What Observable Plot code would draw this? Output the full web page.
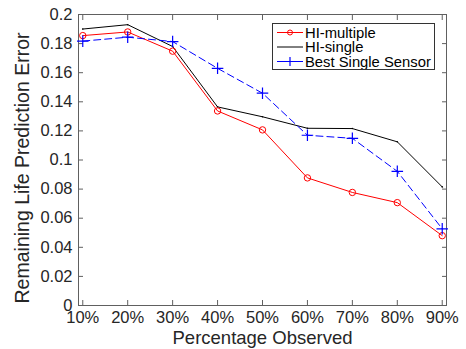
<!DOCTYPE html>
<html><head><meta charset="utf-8">
<script src="https://cdn.jsdelivr.net/npm/d3@7"></script>
<script src="https://cdn.jsdelivr.net/npm/@observablehq/plot@0.6"></script>
<style>
body{margin:0;background:#fff;}
#wrap{position:relative;width:466px;height:349px;font-family:"Liberation Sans",Arial,Helvetica,sans-serif;}
#legend{position:absolute;left:272px;top:23px;width:163px;height:47px;border:1px solid #333;background:#fff;box-sizing:border-box;}
</style>
</head><body><div id="wrap"></div>
<script>
const percentages = [10, 20, 30, 40, 50, 60, 70, 80, 90];
const hiMultiple = [0.1855, 0.188, 0.1748, 0.1337, 0.1207, 0.0877, 0.0777, 0.0707, 0.048];
const hiSingle = [0.190, 0.193, 0.178, 0.1365, 0.1297, 0.1218, 0.1216, 0.1125, 0.0815];
const bestSingle = [0.1817, 0.1844, 0.1814, 0.163, 0.1459, 0.117, 0.1149, 0.0922, 0.0527];
const xTickLabels = ["10%", "20%", "30%", "40%", "50%", "60%", "70%", "80%", "90%"];
const yTicks = [0, 0.02, 0.04, 0.06, 0.08, 0.1, 0.12, 0.14, 0.16, 0.18, 0.2];
const yTickLabels = ["0", "0.02", "0.04", "0.06", "0.08", "0.1", "0.12", "0.14", "0.16", "0.18", "0.2"];
const seriesNames = ["HI-multiple", "HI-single", "Best Single Sensor"];
const seriesColors = ["#ff0000", "#000000", "#0000ff"];
const xLabel = "Percentage Observed";
const yLabel = "Remaining Life Prediction Error";

const rows = (vals) => percentages.map((p, i) => ({x: p, y: vals[i]}));
const dM = rows(hiMultiple), dS = rows(hiSingle), dB = rows(bestSingle);
const axisColor = "#606060";
const font = '"Liberation Sans",Arial,Helvetica,sans-serif';

const plot = Plot.plot({
  width: 466, height: 349,
  marginLeft: 78, marginRight: 20, marginTop: 14, marginBottom: 44,
  style: {fontFamily: font, fontSize: "16px", color: "#262626", background: "#fff"},
  x: {type: "linear", domain: [9.05, 90.95]},
  y: {domain: [0, 0.2]},
  marks: [
    Plot.frame({stroke: axisColor, strokeWidth: 1}),
    Plot.axisX(percentages, {anchor: "bottom", tickSize: -5, tickPadding: 11, stroke: axisColor,
      tickFormat: (d) => xTickLabels[percentages.indexOf(d)], fontSize: 16.5, label: null}),
    Plot.axisX(percentages, {anchor: "top", tickSize: -5, stroke: axisColor, tickFormat: () => "", label: null}),
    Plot.axisY(yTicks, {anchor: "left", tickSize: -5, tickPadding: 11, stroke: axisColor,
      tickFormat: (d) => yTickLabels[yTicks.indexOf(d)], fontSize: 16.5, label: null}),
    Plot.axisY(yTicks, {anchor: "right", tickSize: -5, stroke: axisColor, tickFormat: () => "", label: null}),
    Plot.text([xLabel], {text: (d) => d, frameAnchor: "bottom", lineAnchor: "middle", dy: 33, fontSize: 18.5, fill: "#262626"}),
    Plot.text([yLabel], {text: (d) => d, frameAnchor: "left", textAnchor: "middle", lineAnchor: "middle", rotate: -90, dx: -55.5, dy: 8, fontSize: 19.5, fill: "#262626"}),
    Plot.line(dS, {x: "x", y: "y", stroke: seriesColors[1], strokeWidth: 1}),
    Plot.dot(dS, {x: "x", y: "y", r: 0.8, fill: seriesColors[1]}),
    Plot.line(dM, {x: "x", y: "y", stroke: seriesColors[0], strokeWidth: 1}),
    Plot.dot(dM, {x: "x", y: "y", r: 3.2, stroke: seriesColors[0], strokeWidth: 1, fill: "none"}),
    Plot.line(dB, {x: "x", y: "y", stroke: seriesColors[2], strokeWidth: 1, strokeDasharray: "7,4"}),
    Plot.dot(dB, {x: "x", y: "y", symbol: "plus", r: 3.8, stroke: seriesColors[2], strokeWidth: 1.2})
  ]
});
const wrap = document.getElementById("wrap");
wrap.appendChild(plot);

// legend overlay
const ns = "http://www.w3.org/2000/svg";
const leg = document.createElement("div");
leg.id = "legend";
const svg = document.createElementNS(ns, "svg");
svg.setAttribute("width", 161); svg.setAttribute("height", 45);
svg.style.display = "block";
seriesNames.forEach((name, i) => {
  const cy = 8.5 + i * 14.5;
  const ln = document.createElementNS(ns, "line");
  ln.setAttribute("x1", 4); ln.setAttribute("x2", 30);
  ln.setAttribute("y1", cy); ln.setAttribute("y2", cy);
  ln.setAttribute("stroke", seriesColors[i]);
  svg.appendChild(ln);
  if (i === 0) {
    const c = document.createElementNS(ns, "circle");
    c.setAttribute("cx", 17); c.setAttribute("cy", cy); c.setAttribute("r", 2.5);
    c.setAttribute("fill", "none"); c.setAttribute("stroke", seriesColors[i]);
    svg.appendChild(c);
  } else if (i === 2) {
    const p = document.createElementNS(ns, "path");
    p.setAttribute("d", `M12.5,${cy}h9M17,${cy-4.5}v9`);
    p.setAttribute("stroke", seriesColors[i]); p.setAttribute("stroke-width", 1.2);
    svg.appendChild(p);
  }
  const t = document.createElementNS(ns, "text");
  t.setAttribute("x", 32); t.setAttribute("y", cy + 5.2);
  t.setAttribute("font-family", font); t.setAttribute("font-size", 14.8);
  t.setAttribute("fill", "#000");
  t.textContent = name;
  svg.appendChild(t);
});
leg.appendChild(svg);
wrap.appendChild(leg);
</script>
</body></html>
